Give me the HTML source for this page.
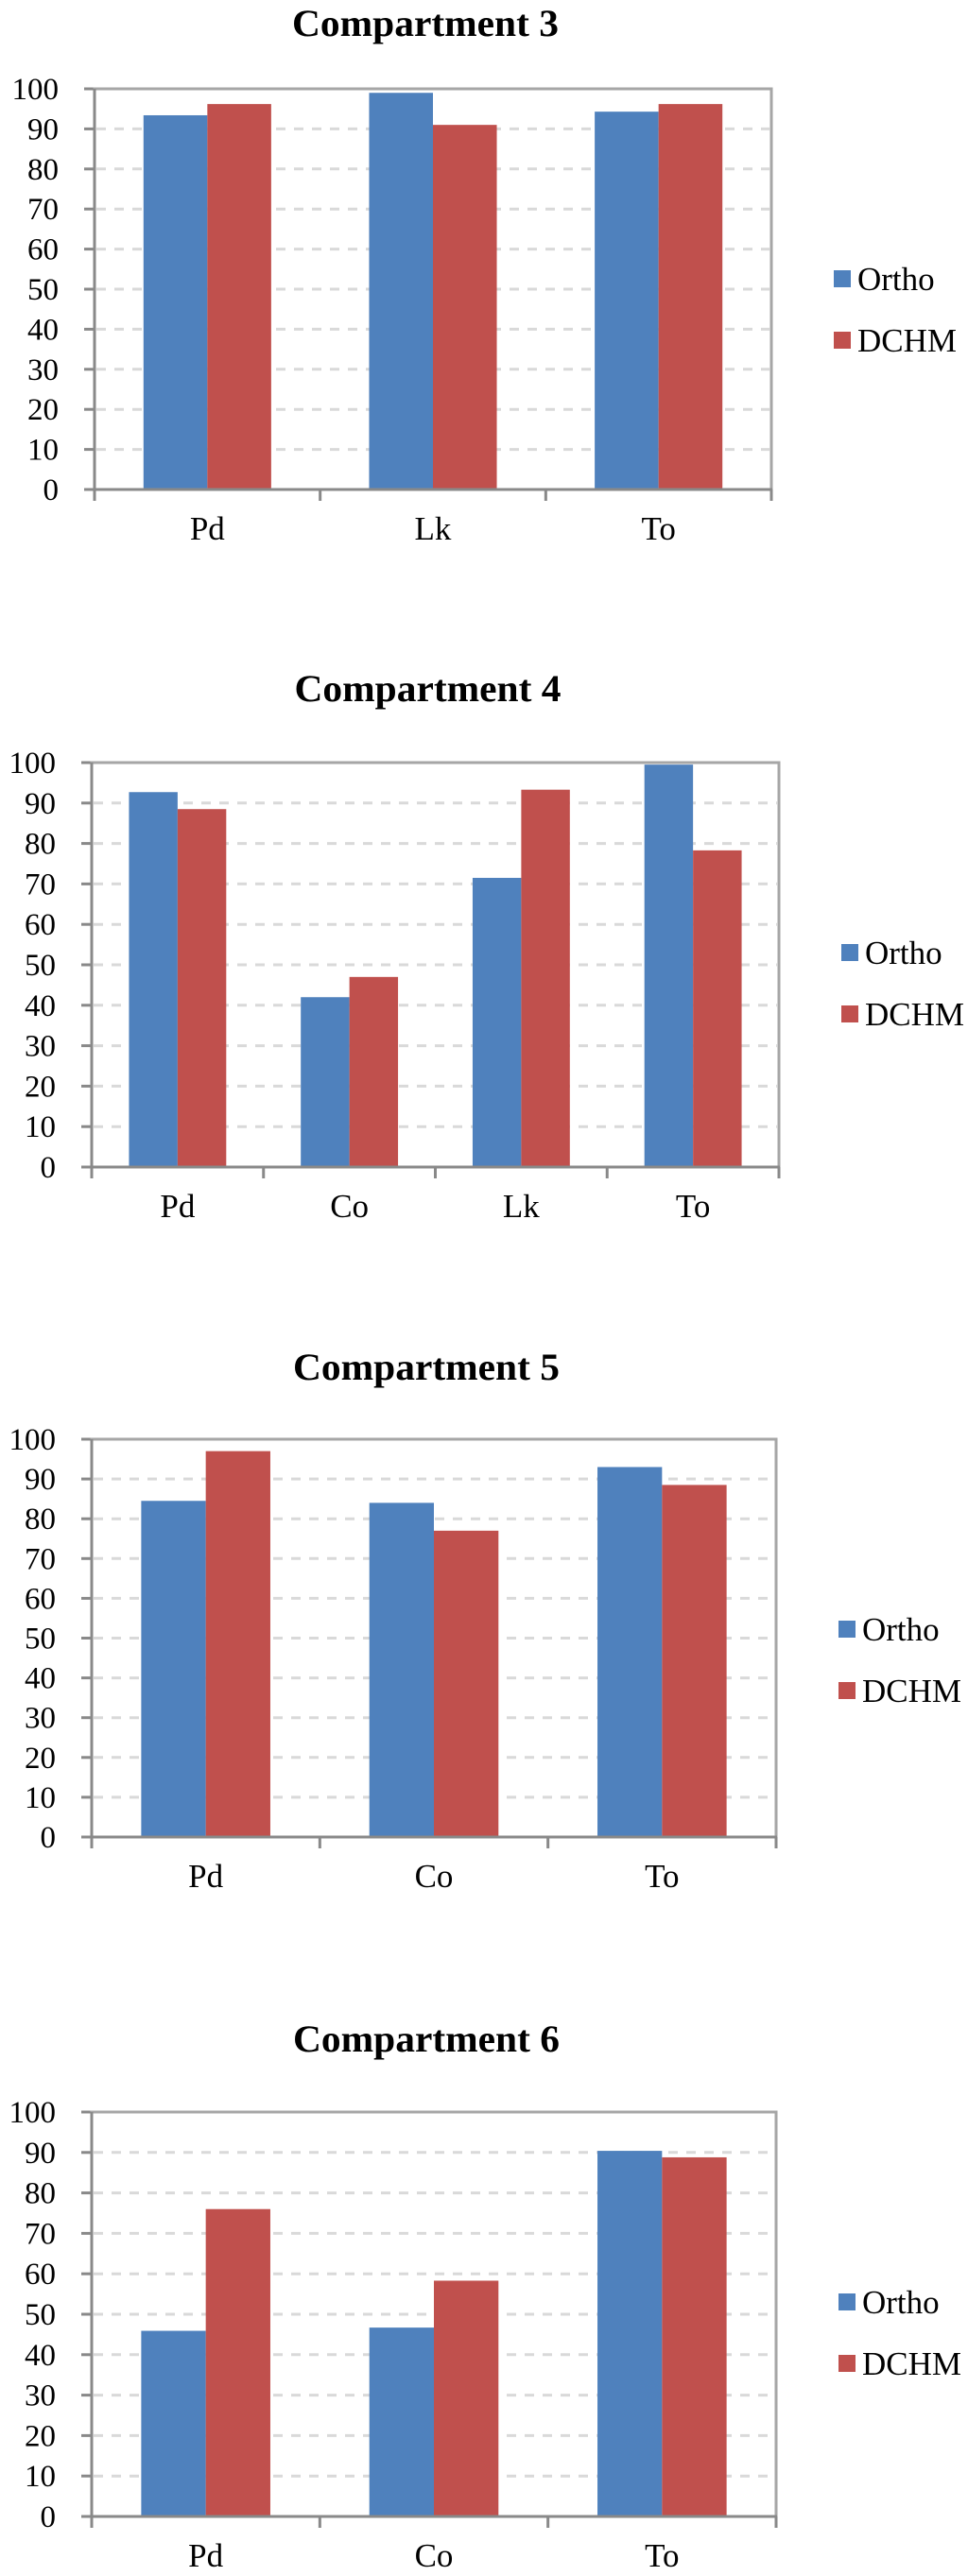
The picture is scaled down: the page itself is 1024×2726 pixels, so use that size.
<!DOCTYPE html>
<html><head><meta charset="utf-8"><style>
html,body{margin:0;padding:0;background:#fff;}
svg{display:block;}
svg text{font-family:"Liberation Serif",serif;fill:#000;}
</style></head><body>
<svg id="page" width="1024" height="2726" viewBox="0 0 1024 2726" xmlns="http://www.w3.org/2000/svg" font-family="Liberation Serif, serif"></svg>
<script>
const yTicks = [0,10,20,30,40,50,60,70,80,90,100];
const seriesNames = ["Ortho","DCHM"];
const c3Categories = ["Pd","Lk","To"];
const c3Ortho = [93.4, 99.0, 94.3];
const c3Dchm = [96.2, 91.0, 96.2];
const c4Categories = ["Pd","Co","Lk","To"];
const c4Ortho = [92.7, 42.0, 71.5, 99.5];
const c4Dchm = [88.5, 47.0, 93.3, 78.3];
const c5Categories = ["Pd","Co","To"];
const c5Ortho = [84.5, 84.0, 93.0];
const c5Dchm = [97.0, 77.0, 88.5];
const c6Categories = ["Pd","Co","To"];
const c6Ortho = [45.9, 46.7, 90.4];
const c6Dchm = [76.0, 58.3, 88.8];

const NS = "http://www.w3.org/2000/svg";
const svg = document.getElementById("page");
const FF = "Liberation Serif, serif";
function mk(tag, attrs, parent){
  const e = document.createElementNS(NS, tag);
  for (const k in attrs) e.setAttribute(k, attrs[k]);
  if (tag === "text") e.setAttribute("font-family", FF);
  (parent||svg).appendChild(e);
  return e;
}
const COLORS = ["#4f81bd","#c0504d"];

function drawChart(id, title, cats, s1, s2, L, R, T, B, titleY){
  const g = mk("g", {});
  
  
  const y = v => B - (v/100)*(B-T);
  const catW = (R-L)/cats.length;
  const barW = catW*0.283;
  const x = i => L + catW*i + catW/2;
  const t = mk("text", {x:(L+R)/2-8, y:titleY, "text-anchor":"middle", "font-size":"40", "font-weight":"bold", textLength:"282", lengthAdjust:"spacingAndGlyphs"}, g);
  t.textContent = title;
  
  
  yTicks.forEach(v => {
    if (v>0 && v<100){
      const gl = mk("line", {x1:L+2, x2:R-2, y1:y(v), y2:y(v), stroke:"#d9d9d9", "stroke-width":"3", "stroke-dasharray":"10 9"}, g);
      
      
    }
    mk("line", {x1:L-11, x2:L, y1:y(v), y2:y(v), stroke:"#898989", "stroke-width":"3"}, g);
    const tl = mk("text", {x:L-38, y:y(v)+11, "text-anchor":"end", "font-size":"33"}, g);
    tl.textContent = v;
    
    
  });
  cats.forEach((c,i) => {
    [s1,s2].forEach((s,j) => {
      const bx = x(i) - barW + j*barW;
      const r = mk("rect", {x:bx, y:y(s[i]), width:barW, height:B-y(s[i]), fill:COLORS[j]}, g);
      
      
    });
    const cl = mk("text", {x:x(i), y:B+53, "text-anchor":"middle", "font-size":"35"}, g);
    cl.textContent = c;
    
    
  });
  const fr = mk("path", {d:`M${L},${B} L${L},${T} L${R},${T} L${R},${B}`, fill:"none", stroke:"#a6a6a6", "stroke-width":"3"}, g);
  
  
  const ax = mk("line", {x1:L, x2:L, y1:T, y2:B+1, stroke:"#898989", "stroke-width":"3"}, g);
  
  
  const xa = mk("line", {x1:L-11, x2:R+1, y1:B, y2:B, stroke:"#898989", "stroke-width":"3"}, g);
  
  
  for (let i=0;i<=cats.length;i++){
    mk("line", {x1:L+catW*i, x2:L+catW*i, y1:B, y2:B+12, stroke:"#898989", "stroke-width":"3"}, g);
  }
  seriesNames.forEach((n,j) => {
    const cy = T + 201 + j*65;
    const lg = mk("g", {}, g);
    
    
    mk("rect", {x:R+66, y:cy-9, width:18, height:18, fill:COLORS[j]}, lg);
    const lt = mk("text", {x:R+91, y:cy+12, "font-size":"35"}, lg);
    lt.textContent = n;
  });
}
drawChart("chart-compartment-3", "Compartment 3", c3Categories, c3Ortho, c3Dchm, 100, 816, 94, 518, 38);
drawChart("chart-compartment-4", "Compartment 4", c4Categories, c4Ortho, c4Dchm, 97, 824, 807, 1235, 742);
drawChart("chart-compartment-5", "Compartment 5", c5Categories, c5Ortho, c5Dchm, 97, 821, 1523, 1944, 1460);
drawChart("chart-compartment-6", "Compartment 6", c6Categories, c6Ortho, c6Dchm, 97, 821, 2235, 2663, 2171);
</script>
</body></html>
